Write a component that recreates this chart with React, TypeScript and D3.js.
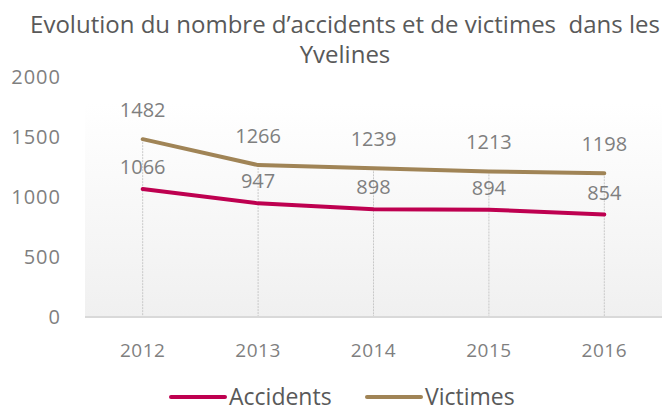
import { useEffect, useRef } from 'react'
import * as d3 from 'd3'

const years = ['2012', '2013', '2014', '2015', '2016']
const accidents = [1066, 947, 898, 894, 854]
const victimes = [1482, 1266, 1239, 1213, 1198]
const yTicks = [0, 500, 1000, 1500, 2000]
const titleLines = ['Evolution du nombre d’accidents et de victimes  dans les', 'Yvelines']

const series = [
  { name: 'Accidents', values: accidents, color: '#BE0050', labelGap: 22 },
  { name: 'Victimes', values: victimes, color: '#A08456', labelGap: 29 },
]

export default function App() {
  const svgRef = useRef<SVGSVGElement>(null)

  useEffect(() => {
    const w = 669
    const h = 412
    const svg = d3.select(svgRef.current).attr('width', w).attr('height', h)
    svg.selectAll('*').remove()
    const font = "'Open Sans', sans-serif"

    // plot area
    const left = 85, right = 662, top = 103, bottom = 317
    const x = d3.scaleBand().domain(years).range([left, right])
    const y = d3.scaleLinear().domain([0, 2000]).range([bottom, 77])

    const defs = svg.append('defs')
    const grad = defs.append('linearGradient').attr('id', 'bg').attr('x1', 0).attr('y1', 0).attr('x2', 0).attr('y2', 1)
    grad.append('stop').attr('offset', '0%').attr('stop-color', '#ffffff')
    grad.append('stop').attr('offset', '100%').attr('stop-color', '#f0f0f0')

    svg.append('rect')
      .attr('x', left).attr('y', top)
      .attr('width', right - left).attr('height', bottom - top)
      .attr('fill', 'url(#bg)')

    // title
    svg.append('g').selectAll('text')
      .data(titleLines)
      .join('text')
      .attr('x', 345)
      .attr('y', (d, i) => 33 + i * 30)
      .attr('text-anchor', 'middle')
      .attr('font-family', font)
      .attr('font-size', 24)
      .attr('fill', '#595959')
      .style('white-space', 'pre')
      .text(d => d)

    // y labels
    svg.append('g').selectAll('text')
      .data(yTicks)
      .join('text')
      .attr('x', 61)
      .attr('y', d => y(d))
      .attr('dy', '0.35em')
      .attr('text-anchor', 'end')
      .attr('font-family', font)
      .attr('font-size', 20)
      .attr('letter-spacing', 1)
      .attr('fill', '#7f7f7f')
      .text(d => d)

    // drop lines
    svg.append('g').selectAll('line')
      .data(years)
      .join('line')
      .attr('x1', d => x(d)! + x.bandwidth() / 2)
      .attr('x2', d => x(d)! + x.bandwidth() / 2)
      .attr('y1', (d, i) => y(victimes[i]))
      .attr('y2', bottom)
      .attr('stroke', '#c8c8c8')
      .attr('stroke-width', 1)
      .attr('stroke-dasharray', '2,1')

    // x axis line
    svg.append('line')
      .attr('x1', left).attr('x2', right)
      .attr('y1', bottom).attr('y2', bottom)
      .attr('stroke', '#d9d9d9').attr('stroke-width', 2)

    svg.append('g').selectAll('text')
      .data(years)
      .join('text')
      .attr('x', d => x(d)! + x.bandwidth() / 2)
      .attr('y', 350)
      .attr('dy', '0.35em')
      .attr('text-anchor', 'middle')
      .attr('font-family', font)
      .attr('font-size', 19)
      .attr('letter-spacing', 0.5)
      .attr('fill', '#7f7f7f')
      .text(d => d)

    const line = d3.line<number>()
      .x((d, i) => x(years[i])! + x.bandwidth() / 2)
      .y(d => y(d))

    series.forEach(s => {
      svg.append('path')
        .datum(s.values)
        .attr('d', line)
        .attr('fill', 'none')
        .attr('stroke', s.color)
        .attr('stroke-width', 4)
        .attr('stroke-linecap', 'round')

      svg.append('g').selectAll('text')
        .data(s.values)
        .join('text')
        .attr('x', (d, i) => x(years[i])! + x.bandwidth() / 2)
        .attr('y', d => y(d) - s.labelGap)
        .attr('dy', '0.35em')
        .attr('text-anchor', 'middle')
        .attr('font-family', font)
        .attr('font-size', 20)
        .attr('fill', '#7f7f7f')
        .text(d => d)
    })

    // legend
    const legendX = [171, 367]
    const lg = svg.append('g').selectAll('g')
      .data(series)
      .join('g')
      .attr('transform', (d, i) => `translate(${legendX[i]},397)`)
    lg.append('line')
      .attr('x1', 0).attr('x2', 54)
      .attr('stroke', d => d.color)
      .attr('stroke-width', 4)
      .attr('stroke-linecap', 'round')
    lg.append('text')
      .attr('x', 58)
      .attr('y', 8)
      .attr('font-family', font)
      .attr('font-size', 23)
      .attr('fill', '#595959')
      .text(d => d.name)
  }, [])

  return (
    <div style={{ position: 'absolute', left: 0, top: 0 }}>
      <svg ref={svgRef}></svg>
    </div>
  )
}
